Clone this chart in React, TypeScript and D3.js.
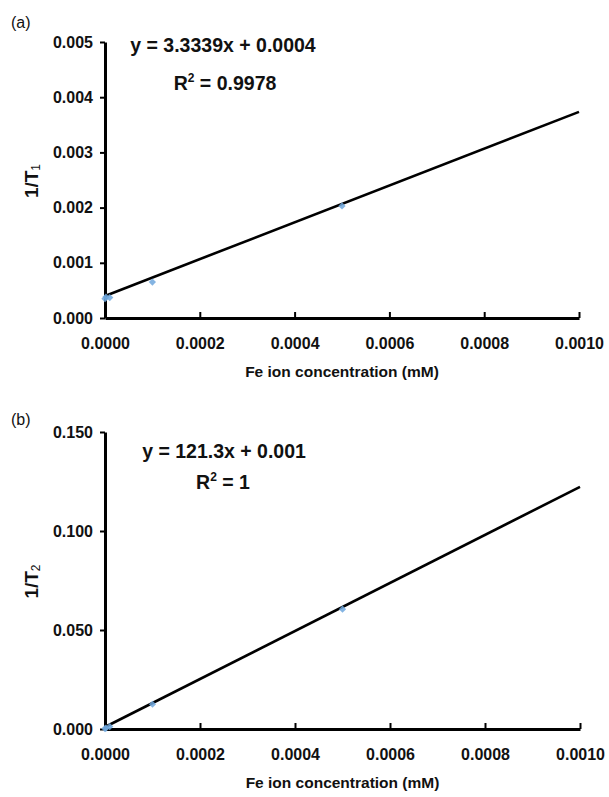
import React, { useEffect, useRef } from "react";
import * as d3 from "d3";

// panel (a): 1/T1
const concA = [0, 0.000002, 0.00001, 0.0001, 0.0005];
const invT1 = [0.00035, 0.00038, 0.00037, 0.00065, 0.00203];
const fitA = { slope: 3.3339, intercept: 0.0004 };
const eqA = "y = 3.3339x + 0.0004";
const r2A = "0.9978";
const yTicksA = [0, 0.001, 0.002, 0.003, 0.004, 0.005];

// panel (b): 1/T2
const concB = [0, 0.000002, 0.00001, 0.0001, 0.0005];
const invT2 = [0.0002, 0.0004, 0.0012, 0.0125, 0.0605];
const fitB = { slope: 121.3, intercept: 0.001 };
const eqB = "y = 121.3x + 0.001";
const r2B = "1";
const yTicksB = [0, 0.05, 0.1, 0.15];

const xTicks = [0, 0.0002, 0.0004, 0.0006, 0.0008, 0.001];
const xTitle = "Fe ion concentration (mM)";

const FONT = "'Liberation Sans', Arial, sans-serif";

function drawPanel(g, opt) {
  const { top, bottom, left, right, xs, ys, fit, yTicks, yMax, eq, r2, sub, tag, eqX, eqY, r2X, r2Y, tagY, titleY } = opt;

  const x = d3.scaleLinear().domain([0, 0.001]).range([left, right]);
  const y = d3.scaleLinear().domain([0, yMax]).range([bottom, top]);

  // axes
  const yAxis = g.append("g")
    .attr("transform", `translate(${left},0)`)
    .call(d3.axisLeft(y).tickValues(yTicks).tickFormat(d3.format(".3f")).tickSizeInner(5).tickSizeOuter(0).tickPadding(7));
  const xAxis = g.append("g")
    .attr("transform", `translate(0,${bottom})`)
    .call(d3.axisBottom(x).tickValues(xTicks).tickFormat(d3.format(".4f")).tickSizeInner(-6).tickSizeOuter(0).tickPadding(20));

  [yAxis, xAxis].forEach(a => {
    a.select(".domain").attr("stroke", "#000").attr("stroke-width", 3);
    a.selectAll(".tick line").attr("stroke", "#000").attr("stroke-width", 2);
    a.selectAll(".tick text")
      .attr("fill", "#111")
      .style("font-family", FONT)
      .style("font-size", "16px")
      .style("font-weight", "bold");
  });

  // fitted line
  const line = d3.line().x(d => x(d)).y(d => y(fit.slope * d + fit.intercept));
  g.append("path")
    .datum([0, 0.001])
    .attr("d", line)
    .attr("fill", "none")
    .attr("stroke", "#000")
    .attr("stroke-width", 2.6);

  // measured points
  g.selectAll(".pt")
    .data(xs.map((v, i) => [v, ys[i]]))
    .join("path")
    .attr("class", "pt")
    .attr("d", d3.symbol(d3.symbolSquare, 26))
    .attr("transform", d => `translate(${x(d[0])},${y(d[1])}) rotate(45)`)
    .attr("fill", "#6fa7dd")
    .attr("opacity", 0.85);

  // equation + R²
  g.append("text")
    .attr("x", eqX).attr("y", eqY)
    .attr("text-anchor", "middle")
    .style("font-family", FONT).style("font-size", "19.5px").style("font-weight", "bold")
    .attr("fill", "#111")
    .text(eq);
  const r = g.append("text")
    .attr("x", r2X).attr("y", r2Y)
    .attr("text-anchor", "middle")
    .style("font-family", FONT).style("font-size", "19.5px").style("font-weight", "bold")
    .attr("fill", "#111");
  r.append("tspan").text("R");
  r.append("tspan").attr("dy", -8).style("font-size", "12px").text("2");
  r.append("tspan").attr("dy", 8).text(" = " + r2);

  // y title
  const yt = g.append("text")
    .attr("transform", `translate(38,${(top + bottom) / 2 + 1}) rotate(-90)`)
    .attr("text-anchor", "middle")
    .style("font-family", FONT).style("font-size", "19px").style("font-weight", "bold")
    .attr("fill", "#111");
  yt.append("tspan").text("1/T");
  yt.append("tspan").attr("dy", 2).style("font-size", "12px").style("font-weight", "normal").text(sub);

  // x title
  g.append("text")
    .attr("x", (left + right) / 2).attr("y", titleY)
    .attr("text-anchor", "middle")
    .style("font-family", FONT).style("font-size", "15.5px").style("font-weight", "bold")
    .attr("fill", "#111")
    .text(xTitle);

  // panel tag
  g.append("text")
    .attr("x", 11).attr("y", tagY)
    .style("font-family", FONT).style("font-size", "16px")
    .attr("fill", "#111")
    .text(tag);
}

export default function App() {
  const ref = useRef(null);

  useEffect(() => {
    const svg = d3.select(ref.current);
    svg.selectAll("*").remove();

    drawPanel(svg.append("g"), {
      top: 42, bottom: 318, left: 105, right: 579,
      xs: concA, ys: invT1, fit: fitA, yTicks: yTicksA, yMax: 0.005,
      eq: eqA, r2: r2A, sub: "1", tag: "(a)",
      eqX: 223, eqY: 52, r2X: 225, r2Y: 90, tagY: 28, titleY: 377,
    });
    drawPanel(svg.append("g"), {
      top: 432, bottom: 729, left: 105, right: 580,
      xs: concB, ys: invT2, fit: fitB, yTicks: yTicksB, yMax: 0.15,
      eq: eqB, r2: r2B, sub: "2", tag: "(b)",
      eqX: 224, eqY: 458, r2X: 223, r2Y: 489, tagY: 425, titleY: 788,
    });
  }, []);

  return (
    <svg
      ref={ref}
      width={609}
      height={797}
      style={{ position: "absolute", left: 0, top: 0, background: "#fff" }}
    />
  );
}
